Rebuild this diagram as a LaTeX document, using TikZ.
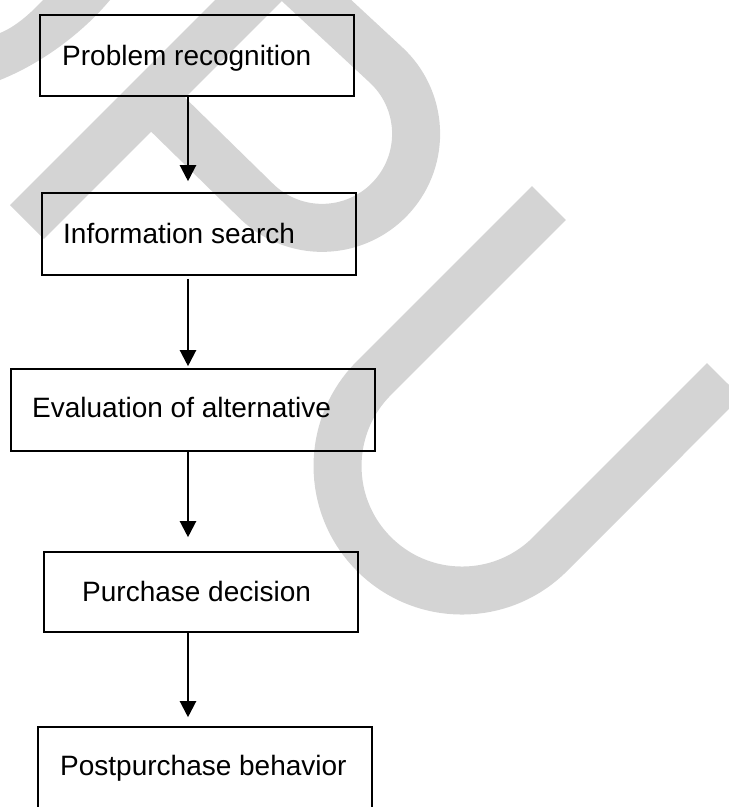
\documentclass[tikz,border=0pt]{standalone}
\usepackage{fontspec}
\setmainfont{Liberation Sans}
\usetikzlibrary{arrows.meta}
\definecolor{wmgray}{RGB}{212,212,212}
\newcommand\lbfont{\fontsize{28}{32}\selectfont}
\tikzset{
  box/.style={draw=black, line width=1.6pt, minimum height=81pt, inner sep=0pt},
  lbl/.style={anchor=base west, inner sep=0pt, font=\lbfont},
  arr/.style={line width=2.2pt, -{Triangle[width=16pt,length=16pt]}},
  wm/.style={draw=wmgray, line width=48pt, line cap=butt},
}
\begin{document}
\begin{tikzpicture}[x=1pt,y=-1pt]
\useasboundingbox (0,0) rectangle (729,807);
\begin{scope}
\clip (0,0) rectangle (729,807);
% watermark
\fill[wmgray] (0,33) .. controls (15,27) and (30,14) .. (43,0) -- (52,-10) -- (120,-10) -- (110,0)
   .. controls (85,30) and (45,62) .. (0,80) -- (-10,84) -- (-10,36) -- cycle;
\draw[wm] (270,-21) -- (27,222);
\draw[wm] (289,-25) -- (385,64) arc(-48:135:94) -- (150,97);
\draw[wm] (549,203) -- (374,378) arc(225:45:124.5) -- (724,380);
% boxes
\node[box, minimum width=314pt] (b1) at (197,55.5) {};
\node[box, minimum width=314pt, minimum height=82pt] (b2) at (199,234) {};
\node[box, minimum width=364pt, minimum height=82pt] (b3) at (193,410) {};
\node[box, minimum width=314pt, minimum height=80pt] (b4) at (201,592) {};
\node[box, minimum width=334pt] (b5) at (205,767.5) {};
\end{scope}
% labels
\node[lbl] (t1) at (62,65) {Problem recognition};
\node[lbl] (t2) at (63,243) {Information search};
\node[lbl] (t3) at (32,417) {Evaluation of alternative};
\node[lbl] (t4) at (82,601) {Purchase decision};
\node[lbl] (t5) at (60,775) {Postpurchase behavior};
% arrows
\coordinate (ax) at (188,0);
\draw[arr, shorten >=11pt] (b1.south -| ax) -- (b2.north -| ax);
\draw[arr, shorten <=3pt, shorten >=2pt] (b2.south -| ax) -- (b3.north -| ax);
\draw[arr, shorten >=14pt] (b3.south -| ax) -- (b4.north -| ax);
\draw[arr, shorten >=9pt] (b4.south -| ax) -- (b5.north -| ax);
\end{tikzpicture}
\end{document}
